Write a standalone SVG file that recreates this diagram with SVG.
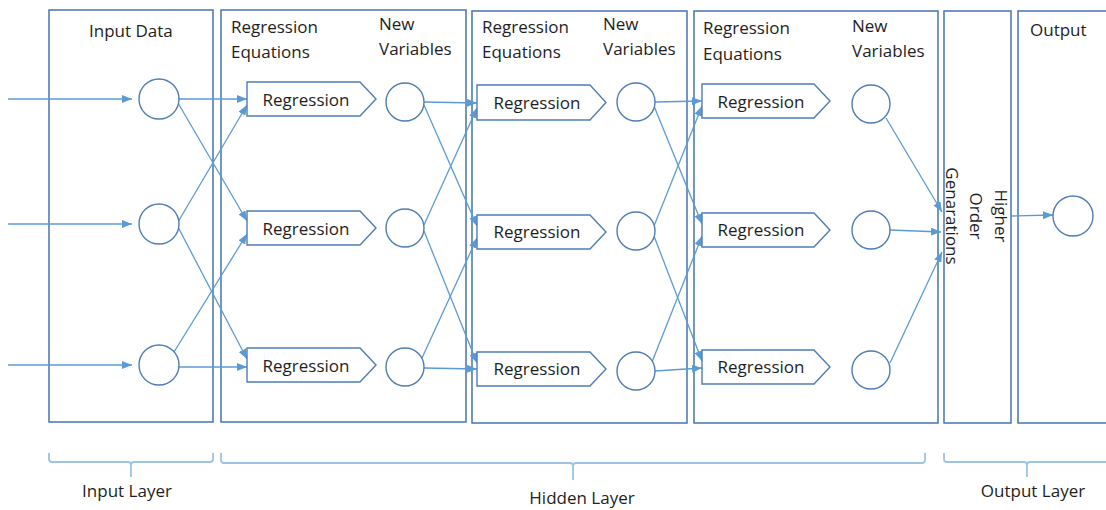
<svg xmlns="http://www.w3.org/2000/svg" width="1106" height="510" viewBox="0 0 1106 510">
  <style>
    .frame { fill: #ffffff; stroke: #4F7DB4; stroke-width: 1.6; }
    .node { fill: #ffffff; stroke: #4F7DB4; stroke-width: 1.4; }
    .reg { fill: #ffffff; stroke: #4F7DB4; stroke-width: 1.4; }
    .lbl { font-family: "Open Sans", "Noto Sans", sans-serif; font-size: 17px; fill: #1e1e1e; }
    .mid { text-anchor: middle; }
    .edge { fill: none; stroke: #5B9BD5; stroke-width: 1.3; marker-end: url(#arrow); }
    .brace { fill: none; stroke: #9DC3E6; stroke-width: 1.8; }
  </style>
  <defs>
    <marker id="arrow" markerWidth="10" markerHeight="8" refX="10" refY="4" orient="auto" markerUnits="userSpaceOnUse">
      <path d="M0,0 L10,4 L0,8 z" fill="#5B9BD5"/>
    </marker>
  </defs>
  <rect width="1106" height="510" fill="#ffffff"/>

  <!-- layer frames -->
  <g id="frames">
    <rect id="input-frame" class="frame" x="49" y="10" width="164" height="412"/>
    <rect id="hidden-frame-1" class="frame" x="221" y="10" width="245" height="412"/>
    <rect id="hidden-frame-2" class="frame" x="472" y="11" width="215" height="412"/>
    <rect id="hidden-frame-3" class="frame" x="694" y="11" width="244" height="412"/>
    <rect id="higher-order-frame" class="frame" x="944" y="11" width="67" height="412"/>
    <rect id="output-frame" class="frame" x="1018" y="11" width="110" height="412"/>
  </g>

  <!-- frame headings -->
  <g id="headings">
    <text class="lbl" x="89" y="37">Input Data</text>
    <text class="lbl" x="231" y="33">Regression</text>
    <text class="lbl" x="231" y="58">Equations</text>
    <text class="lbl" x="379" y="30">New</text>
    <text class="lbl" x="379" y="55">Variables</text>
    <text class="lbl" x="482" y="33">Regression</text>
    <text class="lbl" x="482" y="58">Equations</text>
    <text class="lbl" x="603" y="30">New</text>
    <text class="lbl" x="603" y="55">Variables</text>
    <text class="lbl" x="703" y="34">Regression</text>
    <text class="lbl" x="703" y="60">Equations</text>
    <text class="lbl" x="852" y="32">New</text>
    <text class="lbl" x="852" y="57">Variables</text>
    <text class="lbl" x="1030" y="36">Output</text>
  </g>

  <!-- connectors -->
  <g id="connectors">
    <!-- incoming data -->
    <path class="edge" d="M8,99 H132"/>
    <path class="edge" d="M8,224 H132"/>
    <path class="edge" d="M8,365 H132"/>
    <!-- inputs to first regressions -->
    <path class="edge" d="M179,99 L247,99"/>
    <path class="edge" d="M178,103 L247,221"/>
    <path class="edge" d="M178,222 L247,105"/>
    <path class="edge" d="M178,227 L247,359"/>
    <path class="edge" d="M174,352 L247,234"/>
    <path class="edge" d="M179,367 L247,367"/>
    <!-- first variables to second regressions -->
    <path class="edge" d="M424,102 L477,103"/>
    <path class="edge" d="M424,105 L477,226"/>
    <path class="edge" d="M424,225 L477,108"/>
    <path class="edge" d="M424,231 L477,363"/>
    <path class="edge" d="M422,358 L477,238"/>
    <path class="edge" d="M424,368 L477,369"/>
    <!-- second variables to third regressions -->
    <path class="edge" d="M655,102 L702,101"/>
    <path class="edge" d="M654,106 L702,224"/>
    <path class="edge" d="M654,226 L702,106"/>
    <path class="edge" d="M654,236 L702,361"/>
    <path class="edge" d="M652,362 L702,236"/>
    <path class="edge" d="M655,371 L702,368"/>
    <!-- third variables to higher order generations -->
    <path class="edge" d="M886,118 L942,212"/>
    <path class="edge" d="M890,230 L941,232"/>
    <path class="edge" d="M890,363 L942,252"/>
    <!-- higher order to output -->
    <path class="edge" d="M1012,216 L1053,215"/>
  </g>

  <!-- input nodes -->
  <g id="input-nodes">
    <circle id="in-1" class="node" cx="159" cy="99" r="20"/>
    <circle id="in-2" class="node" cx="159" cy="224" r="20"/>
    <circle id="in-3" class="node" cx="159" cy="365" r="20"/>
  </g>

  <!-- first hidden stage -->
  <g id="reg-1a">
    <polygon class="reg" points="247,82 360,82 376,99 360,116 247,116"/>
    <text class="lbl mid" x="306" y="106">Regression</text>
  </g>
  <g id="reg-1b">
    <polygon class="reg" points="247,211 360,211 376,228 360,245 247,245"/>
    <text class="lbl mid" x="306" y="235">Regression</text>
  </g>
  <g id="reg-1c">
    <polygon class="reg" points="247,348 360,348 376,365 360,382 247,382"/>
    <text class="lbl mid" x="306" y="372">Regression</text>
  </g>
  <g id="var-1">
    <circle class="node" cx="405" cy="102" r="19"/>
    <circle class="node" cx="405" cy="228" r="19"/>
    <circle class="node" cx="405" cy="367" r="19"/>
  </g>

  <!-- second hidden stage -->
  <g id="reg-2a">
    <polygon class="reg" points="477,85 590,85 606,102.5 590,120 477,120"/>
    <text class="lbl mid" x="537" y="109">Regression</text>
  </g>
  <g id="reg-2b">
    <polygon class="reg" points="477,215 590,215 606,232 590,249 477,249"/>
    <text class="lbl mid" x="537" y="238">Regression</text>
  </g>
  <g id="reg-2c">
    <polygon class="reg" points="477,352 590,352 606,369 590,386 477,386"/>
    <text class="lbl mid" x="537" y="375">Regression</text>
  </g>
  <g id="var-2">
    <circle class="node" cx="636" cy="102" r="19"/>
    <circle class="node" cx="636" cy="231" r="19"/>
    <circle class="node" cx="636" cy="371" r="19"/>
  </g>

  <!-- third hidden stage -->
  <g id="reg-3a">
    <polygon class="reg" points="702,84 814,84 830,101 814,118 702,118"/>
    <text class="lbl mid" x="761" y="108">Regression</text>
  </g>
  <g id="reg-3b">
    <polygon class="reg" points="702,213 814,213 830,230 814,247 702,247"/>
    <text class="lbl mid" x="761" y="236">Regression</text>
  </g>
  <g id="reg-3c">
    <polygon class="reg" points="702,350 814,350 830,367 814,384 702,384"/>
    <text class="lbl mid" x="761" y="373">Regression</text>
  </g>
  <g id="var-3">
    <circle class="node" cx="871" cy="104" r="19"/>
    <circle class="node" cx="871" cy="230" r="19"/>
    <circle class="node" cx="871" cy="370" r="19"/>
  </g>

  <!-- higher order generations, written vertically -->
  <g id="higher-order">
    <text class="lbl mid" transform="translate(995,216) rotate(90)">Higher</text>
    <text class="lbl mid" transform="translate(970,216) rotate(90)">Order</text>
    <text class="lbl mid" transform="translate(946,216) rotate(90)">Genarations</text>
  </g>

  <!-- output node -->
  <g id="output-node">
    <circle class="node" cx="1073" cy="216" r="20"/>
  </g>

  <!-- layer braces -->
  <g id="braces">
    <path class="brace" d="M49,453 V459 Q49,462 52,462 H128 Q131,462 131,465 V477 M131,465 Q131,462 134,462 H210 Q213,462 213,459 V453"/>
    <path class="brace" d="M221,453 V460 Q221,463 224,463 H570 Q573,463 573,466 V480 M573,466 Q573,463 576,463 H922 Q925,463 925,460 V453"/>
    <path class="brace" d="M944,453 V459 Q944,462 947,462 H1024 Q1027,462 1027,465 V477 M1027,465 Q1027,462 1030,462 H1107 Q1110,462 1110,459 V453"/>
  </g>
  <g id="layer-labels">
    <text class="lbl mid" x="127" y="497">Input Layer</text>
    <text class="lbl mid" x="582" y="504">Hidden Layer</text>
    <text class="lbl mid" x="1033" y="497">Output Layer</text>
  </g>
</svg>
